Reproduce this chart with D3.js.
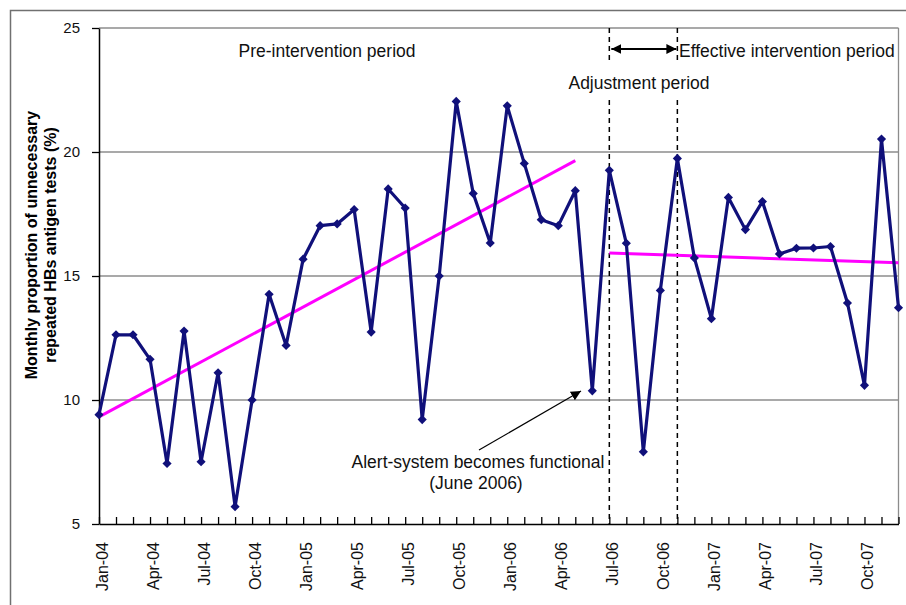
<!DOCTYPE html>
<html>
<head>
<meta charset="utf-8">
<script src="https://cdn.jsdelivr.net/npm/d3@7"></script>
<style>
  body { margin: 0; background: #fff; }
  svg { display: block; font-family: 'Liberation Sans', Arial, sans-serif; }
</style>
</head>
<body>
<div id="chart"></div>
<script>
const months = [
  'Jan-04', 'Feb-04', 'Mar-04', 'Apr-04', 'May-04', 'Jun-04', 'Jul-04', 'Aug-04', 'Sep-04', 'Oct-04', 'Nov-04', 'Dec-04',
  'Jan-05', 'Feb-05', 'Mar-05', 'Apr-05', 'May-05', 'Jun-05', 'Jul-05', 'Aug-05', 'Sep-05', 'Oct-05', 'Nov-05', 'Dec-05',
  'Jan-06', 'Feb-06', 'Mar-06', 'Apr-06', 'May-06', 'Jun-06', 'Jul-06', 'Aug-06', 'Sep-06', 'Oct-06', 'Nov-06', 'Dec-06',
  'Jan-07', 'Feb-07', 'Mar-07', 'Apr-07', 'May-07', 'Jun-07', 'Jul-07', 'Aug-07', 'Sep-07', 'Oct-07', 'Nov-07', 'Dec-07'
];
const proportion = [
  9.41, 12.63, 12.63, 11.64, 7.44, 12.78, 7.51, 11.1, 5.7, 10.0, 14.26, 12.2,
  15.68, 17.03, 17.1, 17.68, 12.74, 18.51, 17.74, 9.21, 15.0, 22.04, 18.33, 16.33,
  21.86, 19.54, 17.27, 17.03, 18.44, 10.37, 19.26, 16.32, 7.91, 14.42, 19.74, 15.73,
  13.28, 18.17, 16.87, 18.0, 15.89, 16.12, 16.13, 16.19, 13.91, 10.59, 20.52, 13.72
];
// fitted trend lines (end points)
const preTrendMonths = ['Jan-04', 'May-06'];
const preTrend = [9.32, 19.65];
const postTrendMonths = ['Jul-06', 'Dec-07'];
const postTrend = [15.93, 15.53];
const yTicks = [5, 10, 15, 20, 25];
const gridTicks = [10, 15, 20, 25];
const periodMonths = ['Jul-06', 'Nov-06'];

const width = 906;
const height = 605;
const plotLeft = 99, plotRight = 898.5, plotTop = 28, plotBottom = 524;

const svg = d3
  .select('#chart')
  .append('svg')
  .attr('width', width)
  .attr('height', height);

// outer border
svg
  .append('rect')
  .attr('x', 10.5)
  .attr('y', 10.5)
  .attr('width', 1000)
  .attr('height', 1000)
  .attr('fill', 'none')
  .attr('stroke', '#707070')
  .attr('stroke-width', 1.5);

const x = d3.scalePoint().domain(months).range([plotLeft, plotRight]);
const y = d3.scaleLinear().domain([5, 25]).range([plotBottom, plotTop]);

// grid
svg
  .append('g')
  .selectAll('line')
  .data(gridTicks)
  .enter()
  .append('line')
  .attr('x1', plotLeft)
  .attr('x2', plotRight)
  .attr('y1', (d) => y(d))
  .attr('y2', (d) => y(d))
  .attr('stroke', '#8c8c8c')
  .attr('stroke-width', 1.3);

svg
  .append('line')
  .attr('x1', plotRight)
  .attr('x2', plotRight)
  .attr('y1', plotTop)
  .attr('y2', plotBottom)
  .attr('stroke', '#8c8c8c')
  .attr('stroke-width', 1.3);

// dashed period lines
svg
  .append('g')
  .selectAll('line')
  .data(periodMonths)
  .enter()
  .append('line')
  .attr('x1', (d) => x(d))
  .attr('x2', (d) => x(d))
  .attr('y1', plotTop)
  .attr('y2', plotBottom)
  .attr('stroke', '#000')
  .attr('stroke-width', 1.5)
  .attr('stroke-dasharray', '5,4');

// y axis
const yAxis = svg
  .append('g')
  .attr('transform', `translate(${plotLeft},0)`)
  .call(d3.axisLeft(y).tickValues(yTicks).tickSize(7).tickPadding(12).tickSizeOuter(0));
yAxis.select('.domain').attr('stroke', '#000').attr('stroke-width', 1.5);
yAxis.selectAll('.tick line').attr('stroke', '#000').attr('stroke-width', 1.3);
yAxis.selectAll('text').style('font-size', '15px').attr('fill', '#111');

// x axis
const xAxis = svg
  .append('g')
  .attr('transform', `translate(0,${plotBottom})`)
  .call(
    d3
      .axisBottom(x)
      .tickSize(-7)
      .tickSizeOuter(0)
      .tickFormat((d, i) => (i % 3 === 0 ? d : ''))
  );
xAxis.select('.domain').attr('stroke', '#000').attr('stroke-width', 1.5);
xAxis.selectAll('.tick line').attr('stroke', '#000').attr('stroke-width', 1.3);
xAxis
  .selectAll('text')
  .attr('transform', 'rotate(-90)')
  .attr('x', -18)
  .attr('y', 3)
  .attr('dy', null)
  .attr('text-anchor', 'end')
  .attr('dominant-baseline', 'central')
  .style('font-size', '16px')
  .attr('fill', '#111');

// trend lines
const trendLine = d3
  .line()
  .x((d) => x(d[0]))
  .y((d) => y(d[1]));

svg
  .append('path')
  .attr('d', trendLine(d3.zip(preTrendMonths, preTrend)))
  .attr('fill', 'none')
  .attr('stroke', '#ff00ff')
  .attr('stroke-width', 3);

svg
  .append('path')
  .attr('d', trendLine(d3.zip(postTrendMonths, postTrend)))
  .attr('fill', 'none')
  .attr('stroke', '#ff00ff')
  .attr('stroke-width', 3);

// data series
const navy = '#10107a';
svg
  .append('path')
  .attr('d', trendLine(d3.zip(months, proportion)))
  .attr('fill', 'none')
  .attr('stroke', navy)
  .attr('stroke-width', 3.2)
  .attr('stroke-linejoin', 'round');

svg
  .append('g')
  .selectAll('path')
  .data(d3.zip(months, proportion))
  .enter()
  .append('path')
  .attr('d', d3.symbol(d3.symbolSquare, 42))
  .attr('transform', (d) => `translate(${x(d[0])},${y(d[1])}) rotate(45)`)
  .attr('fill', navy);

// annotation box covering the dashed lines
svg
  .append('rect')
  .attr('x', 560)
  .attr('y', 64)
  .attr('width', 158)
  .attr('height', 36)
  .attr('fill', '#fff');

const notes = svg.append('g').style('font-size', '17.5px').attr('fill', '#111');

notes.append('text').attr('x', 327).attr('y', 57).attr('text-anchor', 'middle').text('Pre-intervention period');
notes.append('text').attr('x', 639).attr('y', 89).attr('text-anchor', 'middle').text('Adjustment period');
notes.append('text').attr('x', 679).attr('y', 57).text('Effective intervention period');
notes.append('text').attr('x', 478).attr('y', 468).attr('text-anchor', 'middle').text('Alert-system becomes functional');
notes.append('text').attr('x', 476).attr('y', 489).attr('text-anchor', 'middle').text('(June 2006)');

// arrows
const defs = svg.append('defs');
defs
  .append('marker')
  .attr('id', 'head')
  .attr('viewBox', '0 0 10 10')
  .attr('refX', 10)
  .attr('refY', 5)
  .attr('markerWidth', 10)
  .attr('markerHeight', 10)
  .attr('markerUnits', 'userSpaceOnUse')
  .attr('orient', 'auto-start-reverse')
  .append('path')
  .attr('d', 'M0,0 L10,5 L0,10 Z')
  .attr('fill', '#000');

svg
  .append('line')
  .attr('x1', x('Jul-06') + 2)
  .attr('x2', x('Nov-06') - 1)
  .attr('y1', 49)
  .attr('y2', 49)
  .attr('stroke', '#000')
  .attr('stroke-width', 1.8)
  .attr('marker-start', 'url(#head)')
  .attr('marker-end', 'url(#head)');

svg
  .append('line')
  .attr('x1', 479)
  .attr('y1', 450)
  .attr('x2', 581)
  .attr('y2', 391)
  .attr('stroke', '#000')
  .attr('stroke-width', 1.2)
  .attr('marker-end', 'url(#head)');

// y axis title
const title = svg.append('g').style('font-size', '16px').style('font-weight', 'bold').attr('fill', '#000');
title
  .append('text')
  .attr('transform', 'translate(31,245) rotate(-90)')
  .attr('text-anchor', 'middle')
  .attr('dominant-baseline', 'central')
  .text('Monthly proportion of unnecessary');
title
  .append('text')
  .attr('transform', 'translate(50,245) rotate(-90)')
  .attr('text-anchor', 'middle')
  .attr('dominant-baseline', 'central')
  .text('repeated HBs antigen tests (%)');
</script>
</body>
</html>
